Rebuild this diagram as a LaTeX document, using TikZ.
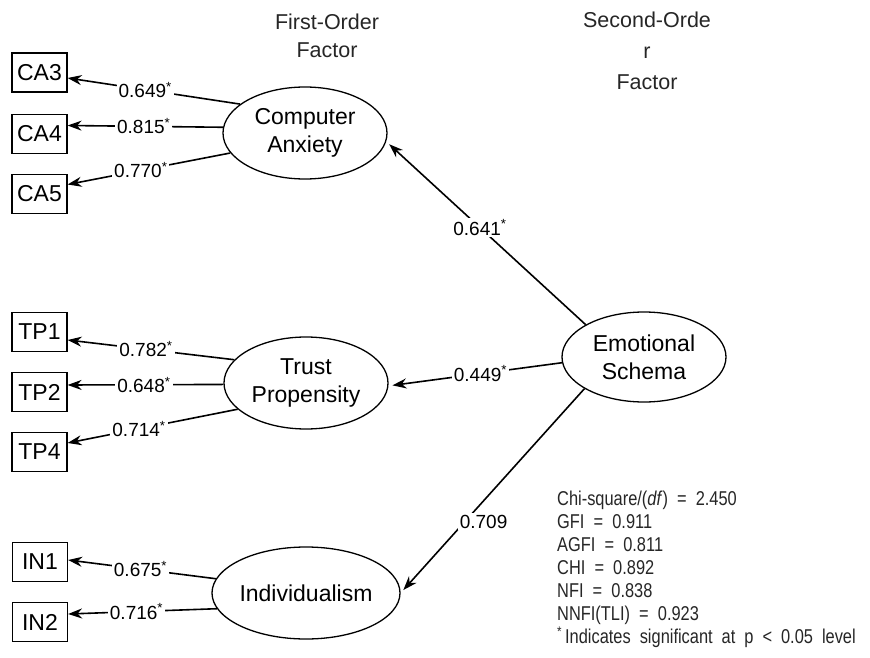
\documentclass[tikz,border=0pt]{standalone}
\usepackage{fontspec}
\setmainfont{Liberation Sans}
\newfontfamily\statfont[FakeStretch=0.82]{Liberation Sans}
\usetikzlibrary{arrows.meta,shapes.geometric}
\newcommand{\sigmark}{\textsuperscript{*}}
\begin{document}
\begin{tikzpicture}[x=1pt,y=-1pt,
  obs/.style={draw,line width=1.2pt,minimum width=55pt,minimum height=39pt,inner sep=0pt,font=\fontsize{23}{26}\selectfont},
  lat/.style={draw,ellipse,line width=1.3pt,minimum width=164pt,minimum height=92pt,inner sep=0pt,align=center,font=\fontsize{23}{28}\selectfont},
  lab/.style={fill=white,inner sep=2pt,font=\fontsize{19}{20}\selectfont},
  arr/.style={line width=1.6pt,-{Stealth[length=14pt,width=10pt]}},
  title/.style={align=center,text=black!85,font=\fontsize{21.5}{28}\selectfont}]
\useasboundingbox (0,0) rectangle (870,658);

% titles
\node[title] (t1) at (327,36) {First-Order\\Factor};
\node[title,font=\fontsize{21.5}{31}\selectfont] (t2) at (647,51) {Second-Orde\\r\hspace*{28pt}\\Factor};

% observed variables
\node[obs] (CA3) at (39.5,72.5) {CA3};
\node[obs] (CA4) at (39.5,134) {CA4};
\node[obs] (CA5) at (39.5,194) {CA5};
\node[obs] (TP1) at (39.5,332) {TP1};
\node[obs] (TP2) at (39.5,392) {TP2};
\node[obs] (TP4) at (39.5,452) {TP4};
\node[obs] (IN1) at (40,562) {IN1};
\node[obs] (IN2) at (40,622) {IN2};

% latent factors
\node[lat] (CA) at (305,133) {Computer\\Anxiety};
\node[lat] (TP) at (306,383) {Trust\\Propensity};
\node[lat] (IN) at (306,593) {Individualism};
\node[lat,minimum height=90pt] (ES) at (644,357) {Emotional\\Schema};

% first-order loadings
\draw[arr] (CA.156) -- node[lab,pos=0.55]{0.649\sigmark} ([yshift=-5.5pt]CA3.east);
\draw[arr] (CA.176) -- node[lab,pos=0.51]{0.815\sigmark} ([yshift=8.5pt]CA4.east);
\draw[arr] (CA.195) -- node[lab,pos=0.55]{0.770\sigmark} ([yshift=9.5pt]CA5.east);
\draw[arr] (TP.162) -- node[lab,pos=0.53]{0.782\sigmark} ([yshift=-8pt]TP1.east);
\draw[arr] (TP.181) -- node[lab,pos=0.51]{0.648\sigmark} ([yshift=7pt]TP2.east);
\draw[arr] (TP.201) -- node[lab,pos=0.58]{0.714\sigmark} ([yshift=9pt]TP4.east);
\draw[arr] (IN.171) -- node[lab,pos=0.51]{0.675\sigmark} ([yshift=2pt]IN1.east);
\draw[arr] (IN.190) -- node[lab,pos=0.54]{0.716\sigmark} ([yshift=8pt]IN2.east);

% second-order loadings
\draw[arr,shorten >=4pt] (ES.151) -- node[lab,pos=0.53]{0.641\sigmark} (CA.-6);
\draw[arr,shorten >=4pt] (ES.184) -- node[lab,pos=0.47]{0.449\sigmark} (TP.-2);
\draw[arr,shorten >=4pt] (ES.208) -- node[lab,pos=0.65,anchor=west,xshift=-8pt]{0.709} (IN.0);

% fit statistics
\node[anchor=north west,align=left,inner sep=0pt,text=black!85,font=\statfont\fontsize{20}{23}\selectfont] (stats) at (557,491)
  {Chi-square/(\textit{df})\ \ =\ \ 2.450\\
   GFI\ \ =\ \ 0.911\\
   AGFI\ \ =\ \ 0.811\\
   CHI\ \ =\ \ 0.892\\
   NFI\ \ =\ \ 0.838\\
   NNFI(TLI)\ \ =\ \ 0.923\\
   \textsuperscript{*}\hspace{3pt}Indicates\hspace{9pt}significant\hspace{9pt}at\hspace{9pt}p\hspace{9pt}\textless\hspace{9pt}0.05\hspace{9pt}level};
\end{tikzpicture}
\end{document}
